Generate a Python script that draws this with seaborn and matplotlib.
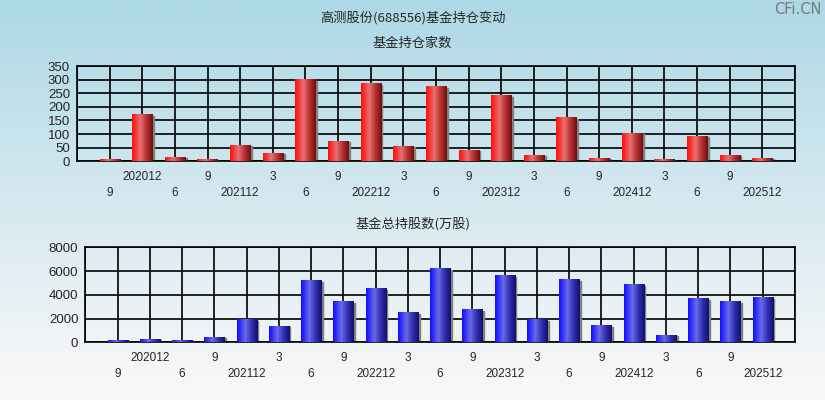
import matplotlib
matplotlib.use('Agg')
import matplotlib.pyplot as plt
import seaborn as sns
import numpy as np
import pandas as pd
from matplotlib.colors import LinearSegmentedColormap
from matplotlib.patches import Rectangle

periods = ['2020-09', '2020-12', '2021-06', '2021-09', '2021-12', '2022-03', '2022-06',
           '2022-09', '2022-12', '2023-03', '2023-06', '2023-09', '2023-12', '2024-03',
           '2024-06', '2024-09', '2024-12', '2025-03', '2025-06', '2025-09', '2025-12']
tick_labels = ['9', '202012', '6', '9', '202112', '3', '6', '9', '202212', '3', '6',
               '9', '202312', '3', '6', '9', '202412', '3', '6', '9', '202512']
fund_counts = [5, 170, 12, 5, 56, 27, 299, 71, 284, 53, 273, 38, 240, 20, 159, 8, 100, 5, 89, 20, 8]
fund_shares = [85, 170, 85, 340, 1860, 1270, 5150, 3380, 4480, 2450, 6170, 2700, 5580, 1860,
               5240, 1350, 4820, 507, 3630, 3380, 3720]

df = pd.DataFrame({'period': periods, 'count': fund_counts, 'shares': fund_shares})

sns.set_style('white')
plt.rcParams['font.family'] = ['Liberation Sans', 'Noto Sans CJK SC']
cjk = ['Noto Sans CJK SC', 'DejaVu Sans']

red_cmap = LinearSegmentedColormap.from_list('red', [
    (0.0, '#ff1010'), (0.15, '#f83030'), (0.4, '#e87070'), (0.7, '#b83030'), (1.0, '#6e1010')])
blue_cmap = LinearSegmentedColormap.from_list('blue', [
    (0.0, '#1010ff'), (0.15, '#3030f8'), (0.4, '#6a6ae8'), (0.7, '#3030b0'), (1.0, '#10106e')])

fig = plt.figure(figsize=(8.25, 4), dpi=100)

# background gradient
bg = fig.add_axes([0, 0, 1, 1], zorder=-10)
top_c = np.array([173, 216, 230]) / 255
bot_c = np.array([252, 249, 249]) / 255
t = np.linspace(0, 1, 256)[:, None]
grad = top_c[None, :] * (1 - t) + bot_c[None, :] * t
bg.imshow(grad[:, None, :], aspect='auto', extent=[0, 1, 0, 1])
bg.set_axis_off()


def draw_panel(rect, col, cmap, ymax, ystep, title, title_y):
    ax = fig.add_axes(rect)
    ax.set_facecolor('none')
    sns.barplot(data=df, x='period', y=col, color='red', width=0.62, ax=ax,
                order=periods, zorder=3)
    for p in list(ax.patches):
        x, w, h = p.get_x(), p.get_width(), p.get_height()
        p.set_visible(False)
        ax.add_patch(Rectangle((x + w, 0), 0.05, h * 0.985, color='#808080', zorder=2.5))
        ax.imshow(np.linspace(0, 1, 64)[None, :], cmap=cmap, aspect='auto',
                  extent=[x, x + w, 0, h], zorder=3)
    ax.set_xlim(-1, 21)
    ax.set_ylim(0, ymax)
    ax.set_xticks(np.arange(-1, 22))
    labs = [''] + [('\n' + l if i % 2 == 0 else l) for i, l in enumerate(tick_labels)] + ['']
    ax.set_xticklabels(labs, fontsize=8.5, linespacing=1.45)
    ax.set_yticks(np.arange(0, ymax + 1, ystep))
    ax.tick_params(axis='x', length=5, width=1, color='black', pad=2, direction='out')
    ax.tick_params(axis='y', length=4, width=1, color='black', pad=1, labelsize=9.5)
    ax.set_xlabel('')
    ax.set_ylabel('')
    ax.grid(True, color='black', linewidth=1.2)
    ax.set_axisbelow(True)
    for s in ax.spines.values():
        s.set_color('black')
        s.set_linewidth(1.2)
    fig.text(0.5, title_y, title, ha='center', va='center', fontsize=9.5, family=cjk)
    return ax


draw_panel([77 / 825, 1 - 161.3 / 400, 718 / 825, 95.3 / 400], 'count', red_cmap,
           350, 50, '基金持仓家数', 1 - 43 / 400)
draw_panel([85.3 / 825, 1 - 342.3 / 400, 709.7 / 825, 95 / 400], 'shares', blue_cmap,
           8000, 2000, '基金总持股数(万股)', 1 - 224 / 400)

fig.text(0.5, 1 - 18 / 400, '高测股份(688556)基金持仓变动', ha='center', va='center',
         fontsize=9.5, family=cjk)
fig.text(0.996, 1 - 10 / 400, 'CFi.CN', ha='right', va='center', fontsize=10.5,
         color='#7a7a7a', family=['DejaVu Sans Condensed', 'DejaVu Sans'])

fig.savefig('out.png', dpi=100)
